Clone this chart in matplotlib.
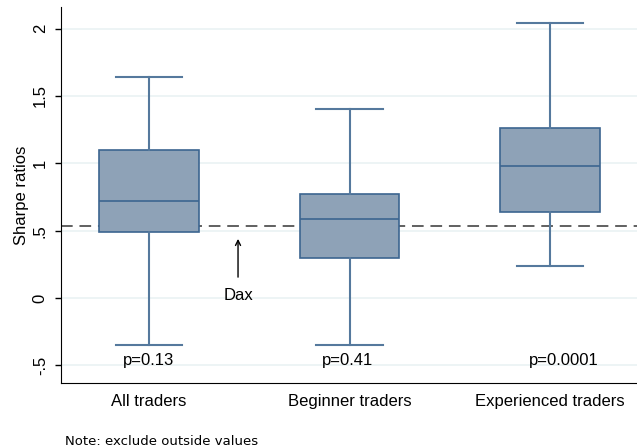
import numpy as np
import matplotlib.pyplot as plt

plt.rcParams['font.family'] = ['Liberation Sans', 'DejaVu Sans']

# box statistics
groups = ["All traders", "Beginner traders", "Experienced traders"]
whisker_low = [-0.35, -0.35, 0.24]
q1 = [0.49, 0.30, 0.64]
median = [0.72, 0.585, 0.98]
q3 = [1.10, 0.773, 1.26]
whisker_high = [1.64, 1.40, 2.04]
p_values = ["p=0.13", "p=0.41", "p=0.0001"]
p_xpos = [1.0, 1.99, 3.07]
dax = 0.537

fill = '#8ea2b7'
edge = '#3c6590'

fig = plt.figure(figsize=(6.37, 4.48), dpi=100)
ax = fig.add_axes([61 / 637, 1 - 383 / 448, 576 / 637, 376 / 448])

stats = []
for i, g in enumerate(groups):
    stats.append(dict(label=g, whislo=whisker_low[i], q1=q1[i], med=median[i],
                      q3=q3[i], whishi=whisker_high[i], fliers=[]))
pos = np.arange(1, len(groups) + 1)
ax.bxp(stats, positions=pos, widths=0.495, patch_artist=True, showfliers=False,
       boxprops=dict(facecolor=fill, edgecolor=edge, linewidth=1.2),
       medianprops=dict(color=edge, linewidth=1.2),
       whiskerprops=dict(color='#55799d', linewidth=1.5),
       capprops=dict(color='#55799d', linewidth=1.5),
       capwidths=0.33, zorder=3)

# Dax reference line sits behind the boxes
ax.axhline(dax, color='#606060', linestyle=(0, (6, 3.5)), linewidth=1.4, zorder=2)
ax.annotate("", xy=(1.444, 0.46), xytext=(1.444, 0.135),
            arrowprops=dict(arrowstyle='->', color='black', lw=1,
                            mutation_scale=9))
ax.text(1.444, 0.02, "Dax", ha='center', va='center', fontsize=12)

for x, p in zip(p_xpos, p_values):
    ax.text(x, -0.465, p, ha='center', va='center', fontsize=12)

ax.set_xlim(0.561, 3.434)
ax.set_ylim(-0.63, 2.16)
ax.set_yticks([-0.5, 0, 0.5, 1, 1.5, 2])
ax.set_yticklabels(["-.5", "0", ".5", "1", "1.5", "2"], rotation=90, va='center',
                   fontsize=12)
ax.set_xticks(pos)
ax.set_xticklabels(groups, fontsize=12)
ax.tick_params(axis='x', length=0, pad=8)
ax.tick_params(axis='y', length=4.5, width=1, pad=5)
ax.set_ylabel("Sharpe ratios", fontsize=12, labelpad=3)
ax.grid(axis='y', color='#eaf2f3', linewidth=1.2, zorder=0)
ax.set_axisbelow(True)
for s in ['top', 'right']:
    ax.spines[s].set_visible(False)

fig.text(65 / 637, 1 - 441 / 448, "Note: exclude outside values", fontsize=9.5,
         family='DejaVu Sans', va='center')

fig.savefig("out.png", dpi=100)
